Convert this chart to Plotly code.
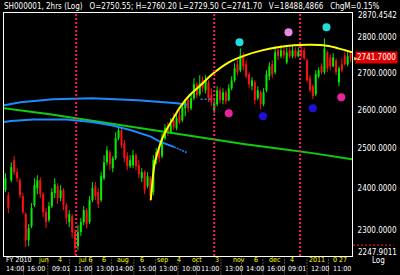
import plotly.graph_objects as go
import numpy as np

# ---------------- data ----------------
title_text = "SH000001, 2hrs (Log)   O=2750.55; H=2760.20 L=2729.50 C=2741.70   V=18488,4866   ChgM=0.15%"

opens = [2395.3, 2383.1, 2419.8, 2469.7, 2439.7, 2419.8, 2380.7, 2337.4, 2276.1, 2308.9,
         2358.9, 2400.2, 2419.8, 2385.5, 2342.1, 2323.0, 2356.5, 2388.0, 2405.0, 2375.8,
         2395.3, 2358.9, 2318.3, 2332.6, 2294.8, 2262.2, 2294.8, 2318.3, 2346.9, 2318.3,
         2371.0, 2405.0, 2390.5, 2371.0, 2424.7, 2464.7, 2490.0, 2449.7, 2474.7, 2525.8,
         2546.5, 2512.8, 2479.9, 2454.7, 2457.2, 2482.4, 2457.2, 2424.7, 2439.7, 2405.0,
         2424.7, 2390.5, 2469.7, 2495.1, 2479.9, 2525.8, 2556.9, 2541.3, 2572.6, 2551.7,
         2585.8, 2572.6, 2604.3, 2625.7, 2604.3, 2631.1, 2668.9, 2641.8, 2679.8, 2652.6,
         2674.4, 2639.1, 2599.0, 2615.0, 2652.6, 2625.7, 2647.2, 2625.7, 2658.0, 2679.8,
         2723.9, 2707.3, 2746.2, 2723.9, 2696.2, 2663.5, 2674.4, 2631.1, 2647.2, 2615.0,
         2652.6, 2690.7, 2723.9, 2701.8, 2763.0, 2746.2, 2763.0, 2729.5, 2763.0, 2746.2,
         2763.0, 2746.2, 2763.0, 2763.0, 2735.1, 2685.3, 2663.5, 2641.8, 2690.7, 2718.3,
         2701.8, 2757.4, 2743.4, 2718.3, 2735.1, 2674.4, 2723.9, 2749.0, 2723.9, 2751.8]
highs = [2437.2, 2390.5, 2464.7, 2479.9, 2449.7, 2424.7, 2388.0, 2342.1, 2313.5, 2363.7,
         2424.7, 2432.2, 2427.2, 2390.5, 2351.7, 2366.2, 2400.2, 2424.7, 2412.4, 2407.5,
         2400.2, 2363.7, 2346.9, 2337.4, 2301.7, 2311.2, 2327.8, 2356.5, 2351.7, 2380.7,
         2414.9, 2414.9, 2400.2, 2439.7, 2482.4, 2505.3, 2495.1, 2479.9, 2541.3, 2556.9,
         2554.3, 2520.7, 2490.0, 2482.4, 2495.1, 2487.5, 2469.7, 2449.7, 2444.7, 2439.7,
         2429.7, 2482.4, 2500.2, 2502.7, 2538.8, 2562.1, 2567.4, 2577.8, 2591.1, 2588.4,
         2599.0, 2617.6, 2628.4, 2636.4, 2641.8, 2685.3, 2674.4, 2693.5, 2690.7, 2693.5,
         2679.8, 2658.0, 2631.1, 2663.5, 2660.8, 2658.0, 2652.6, 2668.9, 2690.7, 2726.7,
         2735.1, 2768.6, 2757.4, 2735.1, 2701.8, 2688.0, 2679.8, 2663.5, 2652.6, 2658.0,
         2707.3, 2729.5, 2735.1, 2774.4, 2774.4, 2777.2, 2774.4, 2771.5, 2771.5, 2774.4,
         2771.5, 2771.5, 2774.4, 2771.5, 2740.7, 2693.5, 2668.9, 2707.3, 2715.6, 2726.7,
         2797.1, 2763.0, 2751.8, 2754.6, 2740.7, 2718.3, 2740.7, 2757.4, 2757.4, 2760.2]
lows = [2390.5, 2339.8, 2414.9, 2432.2, 2414.9, 2375.8, 2337.4, 2259.9, 2262.2, 2304.1,
        2354.1, 2385.5, 2375.8, 2330.3, 2304.1, 2318.3, 2351.7, 2375.8, 2361.3, 2368.6,
        2346.9, 2313.5, 2306.5, 2280.7, 2241.5, 2253.0, 2285.4, 2311.2, 2304.1, 2313.5,
        2366.2, 2371.0, 2351.7, 2366.2, 2419.8, 2457.2, 2444.7, 2439.7, 2469.7, 2520.7,
        2500.2, 2464.7, 2444.7, 2449.7, 2449.7, 2444.7, 2424.7, 2414.9, 2385.5, 2400.2,
        2368.6, 2383.1, 2459.7, 2464.7, 2474.7, 2520.7, 2531.0, 2536.2, 2546.5, 2546.5,
        2562.1, 2567.4, 2583.2, 2593.7, 2599.0, 2625.7, 2631.1, 2636.4, 2647.2, 2644.5,
        2620.4, 2609.6, 2591.1, 2609.6, 2617.6, 2615.0, 2615.0, 2623.0, 2652.6, 2674.4,
        2693.5, 2701.8, 2707.3, 2685.3, 2658.0, 2652.6, 2615.0, 2625.7, 2601.7, 2609.6,
        2647.2, 2679.8, 2685.3, 2696.2, 2735.1, 2740.7, 2740.7, 2723.9, 2740.7, 2740.7,
        2740.7, 2743.4, 2740.7, 2735.1, 2674.4, 2647.2, 2628.4, 2636.4, 2685.3, 2696.2,
        2696.2, 2701.8, 2707.3, 2715.6, 2693.5, 2663.5, 2701.8, 2721.1, 2718.3, 2729.5]
closes = [2424.7, 2351.7, 2452.2, 2439.7, 2424.7, 2383.1, 2342.1, 2276.1, 2304.1, 2351.7,
          2407.5, 2419.8, 2385.5, 2342.1, 2318.3, 2356.5, 2390.5, 2409.9, 2375.8, 2395.3,
          2358.9, 2327.8, 2337.4, 2294.8, 2257.6, 2294.8, 2318.3, 2346.9, 2313.5, 2371.0,
          2400.2, 2380.7, 2361.3, 2429.7, 2464.7, 2495.1, 2459.7, 2474.7, 2525.8, 2546.5,
          2507.8, 2474.7, 2454.7, 2469.7, 2482.4, 2454.7, 2434.7, 2439.7, 2395.3, 2429.7,
          2380.7, 2469.7, 2490.0, 2474.7, 2525.8, 2551.7, 2538.8, 2562.1, 2554.3, 2577.8,
          2567.4, 2607.0, 2620.4, 2604.3, 2631.1, 2668.9, 2639.1, 2671.6, 2658.0, 2679.8,
          2631.1, 2620.4, 2617.6, 2652.6, 2625.7, 2647.2, 2623.0, 2658.0, 2679.8, 2712.8,
          2701.8, 2749.0, 2718.3, 2690.7, 2668.9, 2679.8, 2625.7, 2652.6, 2615.0, 2647.2,
          2696.2, 2718.3, 2696.2, 2757.4, 2746.2, 2763.0, 2749.0, 2757.4, 2746.2, 2763.0,
          2746.2, 2760.2, 2749.0, 2740.7, 2679.8, 2652.6, 2636.4, 2696.2, 2707.3, 2701.8,
          2768.6, 2712.8, 2718.3, 2743.4, 2701.8, 2712.8, 2707.3, 2723.9, 2746.2, 2741.7]

# overlays (bar index, price)
arc_bar = [50.1, 50.4, 51.1, 51.7, 52.7, 54.1, 55.8, 58.1, 60.2, 63.5, 66.9, 71.7,
           77.0, 82.7, 88.5, 93.9, 99.6, 105.3, 110.7, 114.8, 119.5]
arc_price = [2371.0, 2395.0, 2445.0, 2470.0, 2495.0, 2526.0, 2551.7, 2580.5, 2607.0,
             2639.0, 2663.5, 2699.0, 2729.5, 2749.0, 2763.0, 2771.5, 2777.2, 2778.6,
             2775.8, 2768.6, 2757.4]

blue1_bar = [-0.5, 5.2, 16.4, 29.8, 45.7, 59.2, 62.5]
blue1_price = [2612.3, 2620.4, 2628.4, 2631.1, 2625.7, 2617.6, 2613.6]
blue1b_bar = [67.3, 71.0]
blue1b_price = [2628.4, 2628.4]

blue2_bar = [-0.5, 1.9, 9.6, 21.1, 29.8, 36.6, 43.3, 50.1, 53.4, 58.1]
blue2_price = [2568.2, 2570.8, 2574.4, 2574.4, 2568.2, 2559.5, 2546.5, 2529.8, 2516.4, 2503.5]
blue2b_bar = [58.1, 62.5]
blue2b_price = [2503.5, 2489.2]

ma_bar = [-0.5, 15.3, 32.2, 49.0, 60.2, 71.6, 82.7, 93.9, 105.3, 119.5]
ma_price = [2604.3, 2588.4, 2568.7, 2549.1, 2536.2, 2522.5, 2510.3, 2499.4, 2488.3, 2472.2]

cyan_bar = [80.7, 110.7]
cyan_price = [2785.7, 2828.7]
violet_bar = [97.6]
violet_price = [2814.3]
magenta_bar = [77.0, 115.8]
magenta_price = [2591.1, 2633.7]
navy_bar = [88.8, 106.0]
navy_price = [2583.2, 2604.3]

sep_bars = [24.4, 72.0, 101.6]

y_ticks = [2300, 2400, 2500, 2600, 2700, 2800]
y_min, y_max = 2239.5, 2870.4542
last_price = 2741.7
marker_price = 2264.5
low_label = "2247.9011"

top_row_bars = [-0.45, 10.6, 17.4, 24.4, 32.5, 37.9, 45.7, 51.4, 58.5, 63.5, 71.6,
                77.7, 85.1, 90.2, 97.6, 104.0, 112.1]
top_row_text = ["FY 2010", "jun", "4", "jul 6", "6", "aug", "6", "sep", "4", "oct", "3",
                "nov", "6", "dec", "4", "2011", "0 27"]
bot_row_bars = [-0.45, 6.9, 15.3, 22.8, 30.5, 37.2, 45.0, 52.4, 60.2, 66.6, 75.0, 82.1,
                89.5, 96.9, 104.7, 112.1]
bot_row_text = ["14:00", "16:00", "09:01", "11:00", "13:00", "14:00", "15:00", "13:00",
                "10:00", "11:00", "13:00", "14:00", "16:00", "09:01", "12:00", "11:00"]

# ---------------- figure ----------------
n = len(closes)
UP, DN = "#00ee00", "#ff1010"
FONT = "Liberation Sans Narrow, DejaVu Sans Condensed, Arial Narrow, sans-serif"

fig = go.Figure()


def segments(idx, a, b):
    xs, ys = [], []
    for i in idx:
        xs += [i, i, None]
        ys += [a[i], b[i], None]
    return xs, ys


up = [i for i in range(n) if closes[i] >= opens[i]]
dn = [i for i in range(n) if closes[i] < opens[i]]

for idx, col in ((up, UP), (dn, DN)):
    xs, ys = segments(idx, lows, highs)
    fig.add_trace(go.Scatter(x=xs, y=ys, mode="lines", line=dict(color=col, width=1),
                             hoverinfo="skip", showlegend=False))
    xs, ys = segments(idx, opens, closes)
    fig.add_trace(go.Scatter(x=xs, y=ys, mode="lines", line=dict(color=col, width=2),
                             hoverinfo="skip", showlegend=False))

fig.add_trace(go.Scatter(x=ma_bar, y=ma_price, mode="lines",
                         line=dict(color="#10cc10", width=2), showlegend=False))
fig.add_trace(go.Scatter(x=blue1_bar, y=blue1_price, mode="lines",
                         line=dict(color="#1a8cff", width=2), showlegend=False))
fig.add_trace(go.Scatter(x=blue1b_bar, y=blue1b_price, mode="lines",
                         line=dict(color="#1a8cff", width=1.5, dash="2px,2px"), showlegend=False))
fig.add_trace(go.Scatter(x=blue2_bar, y=blue2_price, mode="lines",
                         line=dict(color="#1a8cff", width=2), showlegend=False))
fig.add_trace(go.Scatter(x=blue2b_bar, y=blue2b_price, mode="lines",
                         line=dict(color="#1a8cff", width=1.5, dash="2px,1px"), showlegend=False))
fig.add_trace(go.Scatter(x=arc_bar, y=arc_price, mode="lines", line_shape="spline",
                         line=dict(color="#ffff00", width=2), showlegend=False))

for bx, py, col in ((cyan_bar, cyan_price, "#20dede"), (violet_bar, violet_price, "#e88ae8"),
                    (magenta_bar, magenta_price, "#e8239c"), (navy_bar, navy_price, "#2010d8")):
    fig.add_trace(go.Scatter(x=bx, y=py, mode="markers",
                             marker=dict(color=col, size=8, line=dict(width=0)), showlegend=False))

for sb in sep_bars:
    fig.add_shape(type="line", xref="x", yref="paper", x0=sb, x1=sb, y0=0, y1=1,
                  line=dict(color="#ff1a66", width=2, dash="2px,2px"))

# price marker line in right margin
fig.add_shape(type="line", xref="paper", yref="y", x0=1.003, x1=1.12,
              y0=marker_price, y1=marker_price,
              line=dict(color="#ff2020", width=1, dash="2px,2px"))

annotations = []
annotations.append(dict(text=title_text, xref="paper", yref="paper", x=-0.006, y=1,
                        xanchor="left", yanchor="bottom", yshift=0, showarrow=False,
                        font=dict(color="white", size=8, family=FONT)))
annotations.append(dict(text=f"{y_max:.4f}", xref="paper", yref="paper", x=1, y=1,
                        xanchor="left", yanchor="middle", xshift=4, yshift=-2, showarrow=False,
                        font=dict(color="white", size=8, family=FONT)))
annotations.append(dict(text=f"{last_price:.4f}", xref="paper", yref="y", x=1, y=np.log10(last_price),
                        xanchor="left", yanchor="middle", xshift=3, showarrow=False,
                        bgcolor="#e00000", borderpad=1,
                        font=dict(color="white", size=8, family=FONT)))
annotations.append(dict(text="\u25B6", xref="paper", yref="y", x=1, y=np.log10(last_price),
                        xanchor="left", yanchor="middle", xshift=0, showarrow=False,
                        font=dict(color="#ffcc00", size=5, family=FONT)))
annotations.append(dict(text=low_label, xref="paper", yref="paper", x=1, y=0,
                        xanchor="left", yanchor="middle", xshift=4, yshift=4, showarrow=False,
                        font=dict(color="white", size=8, family=FONT)))
annotations.append(dict(text="Log", xref="paper", yref="paper", x=1, y=0,
                        xanchor="left", yanchor="middle", xshift=18, yshift=-4, showarrow=False,
                        font=dict(color="white", size=8, family=FONT)))

for b, t in zip(top_row_bars, top_row_text):
    annotations.append(dict(text=t, xref="x", yref="paper", x=b, y=-0.018,
                            xanchor="left", yanchor="middle", showarrow=False,
                            font=dict(color="white" if t.startswith("FY") else "#ffff00",
                                      size=7, family=FONT)))
for b, t in zip(bot_row_bars, bot_row_text):
    annotations.append(dict(text=t, xref="x", yref="paper", x=b, y=-0.055,
                            xanchor="left", yanchor="middle", showarrow=False,
                            font=dict(color="white", size=7, family=FONT)))
for b in bot_row_bars[1:]:
    fig.add_shape(type="line", xref="x", yref="paper", x0=b - 0.7, x1=b - 0.7, y0=-0.08, y1=-0.005,
                  line=dict(color="#9a9a9a", width=1, dash="1px,2px"))

fig.update_layout(
    width=400, height=275,
    margin=dict(l=3, r=41, t=13, b=19),
    paper_bgcolor="black", plot_bgcolor="black",
    annotations=annotations,
    xaxis=dict(range=[-0.5, n - 0.5], showgrid=False, zeroline=False, showticklabels=False,
               ticks="", showline=True, mirror=True, linecolor="white", linewidth=1),
    yaxis=dict(type="log", range=[np.log10(y_min), np.log10(y_max)], side="right",
               tickvals=y_ticks, ticktext=[f"{v:.4f}" for v in y_ticks],
               ticks="outside", ticklen=3, tickcolor="black",
               tickfont=dict(color="white", size=8, family=FONT),
               showgrid=False, zeroline=False, showline=True, mirror=True,
               linecolor="white", linewidth=1),
    showlegend=False,
)

fig.write_html("out.html")
